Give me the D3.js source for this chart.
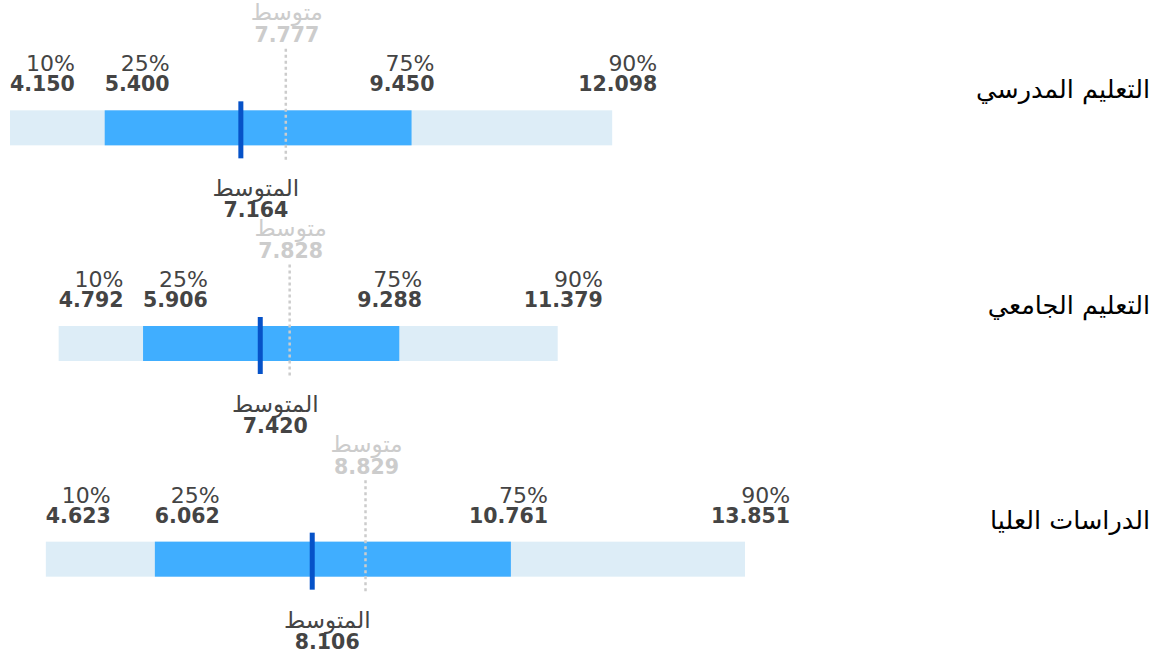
<!DOCTYPE html>
<html><head><meta charset="utf-8">
<script src="https://cdn.jsdelivr.net/npm/d3@7"></script>
<style>
html,body{margin:0;padding:0;background:#fff;}
svg text{font-family:"DejaVu Sans",sans-serif;}
</style></head>
<body>
<svg id="chart" width="1167" height="654"></svg>
<script>
const categories = ["التعليم المدرسي", "التعليم الجامعي", "الدراسات العليا"];
const p10 = [4.150, 4.792, 4.623];
const p25 = [5.400, 5.906, 6.062];
const p75 = [9.450, 9.288, 10.761];
const p90 = [12.098, 11.379, 13.851];
const medians = [7.164, 7.420, 8.106];
const means = [7.777, 7.828, 8.829];
const quantileLabels = ["10%", "25%", "75%", "90%"];
const medianLabel = "المتوسط";
const meanLabel = "متوسط";

const data = categories.map((c, i) => ({cat: c, q: [p10[i], p25[i], p75[i], p90[i]], median: medians[i], mean: means[i]}));

const svg = d3.select("#chart");
const x = d3.scaleLinear().domain([d3.min(p10), d3.max(p90)]).range([10, 745]);
const y = d3.scaleBand().domain(categories).range([20, 667]);
const barH = 35;
const textDark = "#444";
const fmt = d3.format(".3f");
const qOffset = [0, 0, -42, -34];

data.forEach(d => {
  const cy = y(d.cat) + y.bandwidth() / 2;
  const g = svg.append("g");
  // outer range
  g.append("rect").attr("x", x(d.q[0])).attr("y", cy - barH / 2)
    .attr("width", x(d.q[3]) - x(d.q[0])).attr("height", barH).attr("fill", "#ddedf7");
  // inner range
  g.append("rect").attr("x", x(d.q[1])).attr("y", cy - barH / 2)
    .attr("width", x(d.q[2]) - x(d.q[1])).attr("height", barH).attr("fill", "#40aeff");
  // mean dotted line
  g.append("line").attr("x1", x(d.mean) + 1).attr("x2", x(d.mean) + 1)
    .attr("y1", cy - 79).attr("y2", cy + 33)
    .attr("stroke", "#cccccc").attr("stroke-width", 2.5).attr("stroke-dasharray", "3,3");
  // median marker
  g.append("rect").attr("x", x(d.median)).attr("y", cy - 26.5)
    .attr("width", 5).attr("height", 57).attr("fill", "#0652c8");
  // quantile labels
  d.q.forEach((v, k) => {
    const left = x(v) + qOffset[k];
    const t1 = g.append("text").attr("y", cy - 56.5).attr("font-size", 22).attr("fill", textDark)
      .attr("text-anchor", "end").text(quantileLabels[k]);
    const t2 = g.append("text").attr("y", cy - 36.5).attr("font-size", 20.5).attr("font-weight", "bold")
      .attr("fill", textDark).attr("text-anchor", "end").text(fmt(v));
    const w = Math.max(t1.node().getComputedTextLength(), t2.node().getComputedTextLength());
    t1.attr("x", left + w); t2.attr("x", left + w);
  });
  // mean label
  g.append("text").attr("x", x(d.mean) + 2).attr("y", cy - 107.5).attr("font-size", 23)
    .attr("fill", "#cccccc").attr("text-anchor", "middle").text(meanLabel);
  g.append("text").attr("x", x(d.mean) + 2).attr("y", cy - 85.5).attr("font-size", 20.5).attr("font-weight", "bold")
    .attr("fill", "#cccccc").attr("text-anchor", "middle").text(fmt(d.mean));
  // median label
  g.append("text").attr("x", x(d.median) + 17.5).attr("y", cy + 68.5).attr("font-size", 23)
    .attr("fill", textDark).attr("text-anchor", "middle").text(medianLabel);
  g.append("text").attr("x", x(d.median) + 17.5).attr("y", cy + 89.5).attr("font-size", 20.5).attr("font-weight", "bold")
    .attr("fill", textDark).attr("text-anchor", "middle").text(fmt(d.median));
  // category label
  g.append("text").attr("x", 1150).attr("y", cy - 30).attr("font-size", 25.5)
    .attr("fill", "#000").attr("text-anchor", "end").text(d.cat);
});
</script>
</body></html>
